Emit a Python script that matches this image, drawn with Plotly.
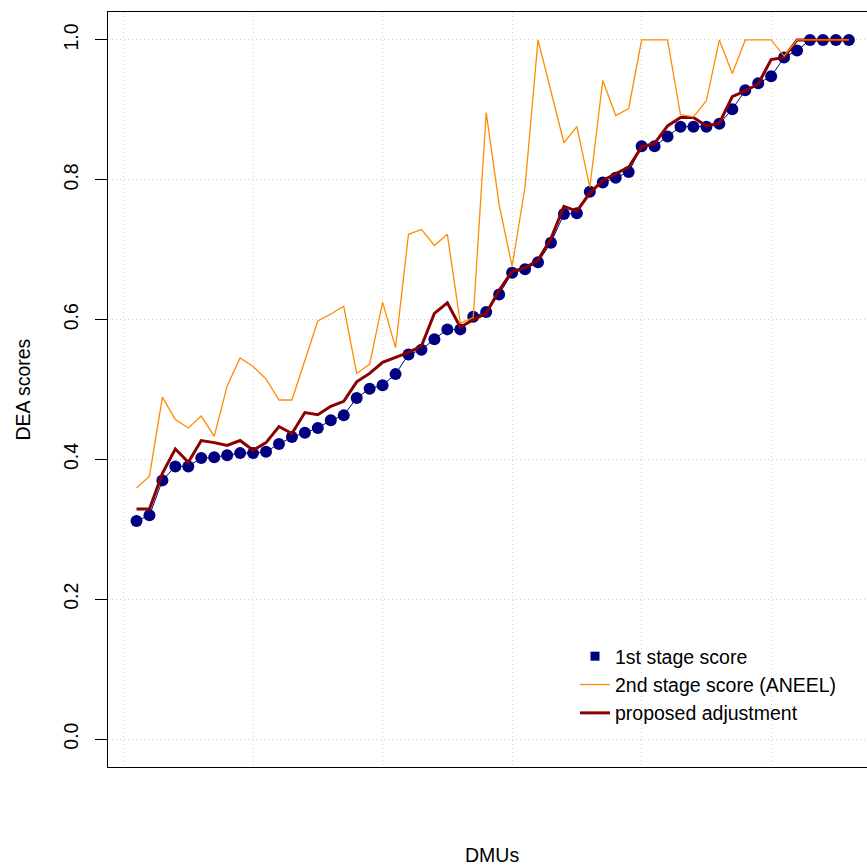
import plotly.graph_objects as go

# DEA efficiency scores per DMU, sorted by first-stage score
dmu = list(range(1, 57))

first_stage = [
    0.312, 0.320, 0.370, 0.390, 0.390, 0.402, 0.403, 0.406, 0.409, 0.409,
    0.411, 0.422, 0.432, 0.438, 0.445, 0.456, 0.463, 0.488, 0.501, 0.506,
    0.522, 0.550, 0.557, 0.572, 0.586, 0.586, 0.604, 0.611, 0.636, 0.667,
    0.672, 0.682, 0.710, 0.751, 0.752, 0.783, 0.796, 0.803, 0.811, 0.848,
    0.848, 0.862, 0.876, 0.876, 0.876, 0.880, 0.901, 0.928, 0.938, 0.948,
    0.975, 0.985, 1.000, 1.000, 1.000, 1.000,
]

second_stage_aneel = [
    0.359, 0.376, 0.489, 0.457, 0.445, 0.462, 0.433, 0.505, 0.545, 0.533,
    0.515, 0.485, 0.485, 0.542, 0.598, 0.608, 0.619, 0.523, 0.536, 0.625,
    0.560, 0.722, 0.729, 0.706, 0.722, 0.595, 0.603, 0.896, 0.764, 0.676,
    0.790, 1.000, 0.928, 0.853, 0.876, 0.789, 0.942, 0.892, 0.902, 1.000,
    1.000, 1.000, 0.893, 0.890, 0.913, 1.000, 0.952, 1.000, 1.000, 1.000,
    0.977, 1.000, 1.000, 1.000, 1.000, 1.000,
]

proposed_adjustment = [
    0.329, 0.329, 0.380, 0.415, 0.396, 0.427, 0.424, 0.420, 0.427, 0.413,
    0.424, 0.447, 0.437, 0.467, 0.464, 0.476, 0.483, 0.511, 0.523, 0.539,
    0.546, 0.553, 0.562, 0.609, 0.624, 0.589, 0.600, 0.609, 0.642, 0.669,
    0.674, 0.685, 0.716, 0.762, 0.755, 0.781, 0.799, 0.809, 0.818, 0.847,
    0.852, 0.877, 0.889, 0.889, 0.877, 0.881, 0.919, 0.927, 0.937, 0.972,
    0.975, 1.000, 1.000, 1.000, 1.000, 1.000,
]

y_ticks = [0.0, 0.2, 0.4, 0.6, 0.8, 1.0]
y_tick_labels = ["0.0", "0.2", "0.4", "0.6", "0.8", "1.0"]
x_grid = [0, 10, 20, 30, 40, 50]

NAVY = "#000080"
ORANGE = "#FF8C00"
DARKRED = "#8B0000"
GRID = "#D3D3D3"
FONT = "Liberation Sans, Arial, Helvetica, sans-serif"
FS = 19.5

fig = go.Figure()

# first-stage scores: points joined by a thin line
fig.add_trace(go.Scatter(
    x=dmu, y=first_stage, mode="lines+markers",
    line=dict(color=NAVY, width=1),
    marker=dict(color=NAVY, size=12, symbol="circle", line=dict(width=0)),
    showlegend=False, hoverinfo="skip",
))
# legend entry for the first stage (square key)
fig.add_trace(go.Scatter(
    x=[None], y=[None], mode="markers", name="1st stage score",
    marker=dict(color=NAVY, size=9, symbol="square", line=dict(width=0)),
    legendrank=1,
))
fig.add_trace(go.Scatter(
    x=dmu, y=proposed_adjustment, mode="lines", name="proposed adjustment",
    line=dict(color=DARKRED, width=3), legendrank=3,
))
fig.add_trace(go.Scatter(
    x=dmu, y=second_stage_aneel, mode="lines", name="2nd stage score (ANEEL)",
    line=dict(color=ORANGE, width=1.3), legendrank=2,
))

fig.update_layout(
    width=867, height=868,
    margin=dict(l=108, r=0, t=12, b=101, autoexpand=False),
    paper_bgcolor="white", plot_bgcolor="white",
    font=dict(family=FONT, size=FS, color="black"),
    showlegend=True,
    legend=dict(
        x=(575 - 108) / 759, xanchor="left",
        y=(767 - 637) / 755, yanchor="top",
        bgcolor="rgba(0,0,0,0)", borderwidth=0,
        font=dict(family=FONT, size=FS, color="black"),
        itemwidth=30, tracegroupgap=0,
    ),
    xaxis=dict(
        range=[-1.2, 57.4], autorange=False,
        tickvals=x_grid, showticklabels=False, ticks="",
        showgrid=True, gridcolor=GRID, griddash="1px,3px", gridwidth=1,
        zeroline=False,
        showline=True, linecolor="black", linewidth=1, mirror=True,
    ),
    yaxis=dict(
        range=[-0.04, 1.04], autorange=False,
        tickvals=y_ticks, ticktext=y_tick_labels, tickangle=-90,
        ticks="outside", ticklen=12, tickcolor="black", tickwidth=1,
        ticklabelstandoff=9,
        showgrid=True, gridcolor=GRID, griddash="1px,3px", gridwidth=1,
        zeroline=False,
        showline=True, linecolor="black", linewidth=1, mirror=False,
        tickfont=dict(family=FONT, size=FS, color="black"),
    ),
    annotations=[
        dict(text="DEA scores", xref="paper", yref="paper",
             x=0, y=0.5, xanchor="center", yanchor="middle",
             xshift=-(108 - 22), textangle=-90, showarrow=False,
             font=dict(family=FONT, size=FS, color="black")),
        dict(text="DMUs", xref="paper", yref="paper",
             x=(492 - 108) / 759, y=0, xanchor="center", yanchor="middle",
             yshift=-(855 - 767), showarrow=False,
             font=dict(family=FONT, size=FS, color="black")),
    ],
)

fig.write_html("out.html")
